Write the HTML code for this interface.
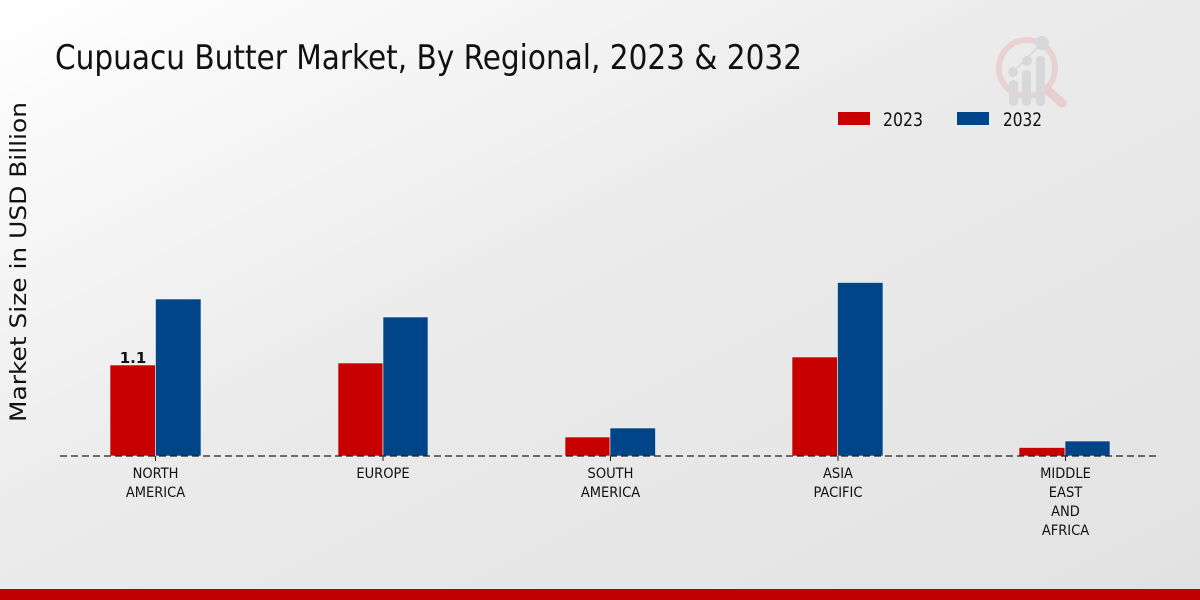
<!DOCTYPE html>
<html>
<head>
<meta charset="utf-8">
<style>
html,body{margin:0;padding:0;width:1200px;height:600px;overflow:hidden;}
svg{display:block;}
</style>
</head>
<body>
<svg width="1200" height="600" viewBox="0 0 1200 600" xmlns="http://www.w3.org/2000/svg">
<defs>
<linearGradient id="bg" x1="0" y1="0" x2="1" y2="1">
<stop offset="0" stop-color="#ffffff"/>
<stop offset="0.45" stop-color="#ebebeb"/>
<stop offset="1" stop-color="#e2e2e2"/>
</linearGradient>
</defs>
<rect x="0" y="0" width="1200" height="600" fill="url(#bg)"/>

<!-- watermark logo -->
<g opacity="0.8">
<circle cx="1027" cy="68" r="28" fill="none" stroke="#e8cccc" stroke-width="6"/>
<line x1="1046" y1="89" x2="1062" y2="103" stroke="#e8c8c8" stroke-width="9" stroke-linecap="round"/>
<rect x="1009" y="80" width="9" height="26" rx="4" fill="#d4d4d8"/>
<rect x="1022" y="70" width="9" height="36" rx="4" fill="#d4d4d8"/>
<rect x="1036" y="56" width="9" height="50" rx="4" fill="#d4d4d8"/>
<circle cx="1013" cy="72" r="5" fill="#d4d4d8"/>
<circle cx="1027" cy="61" r="5" fill="#d4d4d8"/>
<circle cx="1042" cy="43" r="7" fill="#d4d4d8"/>
<line x1="1013" y1="72" x2="1042" y2="43" stroke="#d4d4d8" stroke-width="1.5"/>
</g>

<!-- title -->
<text x="55" y="69" font-family="'DejaVu Sans Condensed','DejaVu Sans',sans-serif" font-stretch="condensed" font-size="34" fill="#111" textLength="747" lengthAdjust="spacingAndGlyphs">Cupuacu Butter Market, By Regional, 2023 &amp; 2032</text>

<!-- y label -->
<text transform="translate(26,262) rotate(-90)" text-anchor="middle" font-family="'DejaVu Sans',sans-serif" font-size="22" fill="#111" textLength="320" lengthAdjust="spacingAndGlyphs">Market Size in USD Billion</text>

<!-- legend -->
<rect x="838" y="112" width="32" height="13" fill="#c80000"/>
<text x="883" y="126" font-family="'DejaVu Sans Condensed','DejaVu Sans',sans-serif" font-stretch="condensed" font-size="19" fill="#111" textLength="40" lengthAdjust="spacingAndGlyphs">2023</text>
<rect x="957" y="112" width="32" height="13" fill="#004587"/>
<text x="1003" y="126" font-family="'DejaVu Sans Condensed','DejaVu Sans',sans-serif" font-stretch="condensed" font-size="19" fill="#111" textLength="39" lengthAdjust="spacingAndGlyphs">2032</text>

<!-- bars -->
<g stroke="#f2f2f2" stroke-width="0.6">
<rect x="110" y="365" width="45.5" height="91" fill="#c80000"/>
<rect x="155.5" y="299" width="45.5" height="157" fill="#004587"/>
<rect x="338" y="363" width="45" height="93" fill="#c80000"/>
<rect x="383" y="317" width="45" height="139" fill="#004587"/>
<rect x="565" y="437" width="45" height="19" fill="#c80000"/>
<rect x="610" y="428" width="45.5" height="28" fill="#004587"/>
<rect x="792" y="357" width="45.5" height="99" fill="#c80000"/>
<rect x="837.5" y="282.5" width="45.5" height="173.5" fill="#004587"/>
<rect x="1019" y="447.5" width="46" height="8.5" fill="#c80000"/>
<rect x="1065" y="441" width="45" height="15" fill="#004587"/>
</g>

<!-- value label -->
<text x="133" y="363" text-anchor="middle" font-family="'DejaVu Sans',sans-serif" font-weight="bold" font-size="15" fill="#111">1.1</text>

<!-- baseline -->
<line x1="60" y1="456" x2="1158" y2="456" stroke="#222" stroke-width="1.3" stroke-dasharray="7,4"/>
<g stroke="#222" stroke-width="1">
<line x1="155.5" y1="456" x2="155.5" y2="461"/>
<line x1="383" y1="456" x2="383" y2="461"/>
<line x1="610.5" y1="456" x2="610.5" y2="461"/>
<line x1="838" y1="456" x2="838" y2="461"/>
<line x1="1065.5" y1="456" x2="1065.5" y2="461"/>
</g>

<!-- category labels -->
<g font-family="'DejaVu Sans Condensed','DejaVu Sans',sans-serif" font-stretch="condensed" font-size="14.5" fill="#111" text-anchor="middle">
<text x="155.5" y="478">NORTH</text>
<text x="155.5" y="497">AMERICA</text>
<text x="383" y="478">EUROPE</text>
<text x="610.5" y="478">SOUTH</text>
<text x="610.5" y="497">AMERICA</text>
<text x="838" y="478">ASIA</text>
<text x="838" y="497">PACIFIC</text>
<text x="1065.5" y="478">MIDDLE</text>
<text x="1065.5" y="497">EAST</text>
<text x="1065.5" y="516">AND</text>
<text x="1065.5" y="535">AFRICA</text>
</g>

<!-- footer bar -->
<rect x="0" y="589" width="1200" height="11" fill="#c00000"/>
</svg>
</body>
</html>
